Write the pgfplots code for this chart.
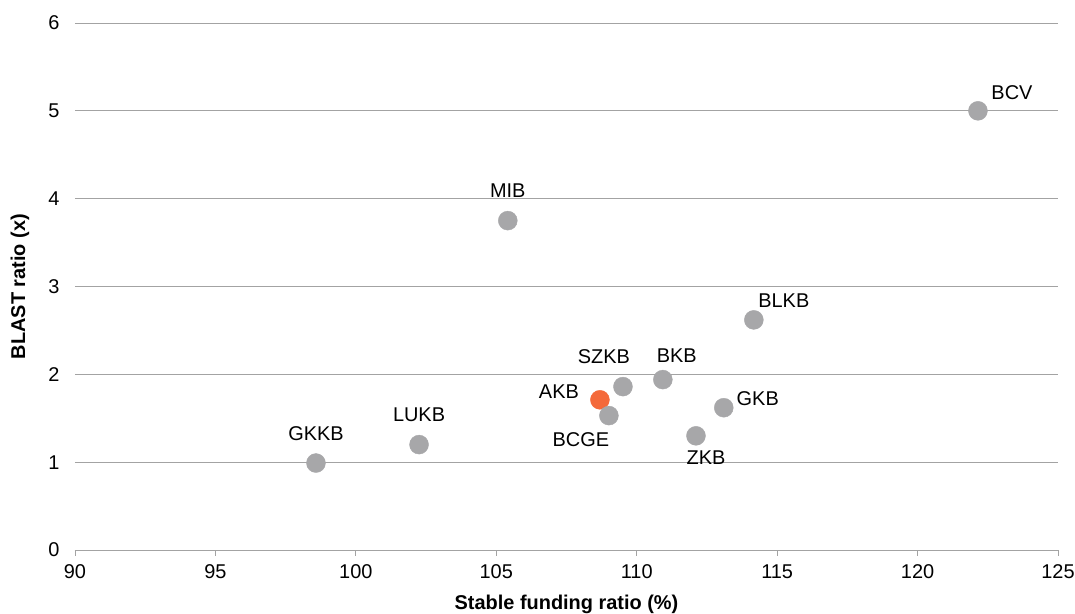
\documentclass[border=0pt]{standalone}
\usepackage{pgfplots}
\pgfplotsset{compat=1.18}
\usepackage{pgfplotstable}
\usepackage{fontspec}
\setmainfont{Liberation Sans}

\definecolor{dotgray}{HTML}{A7A7A9}
\definecolor{dotorange}{HTML}{F4693A}
\definecolor{gridgray}{HTML}{A3A3A3}

% Cantonal banks: stable funding ratio (%) vs BLAST ratio (x)
% dx, dy: offset of the bank's name from its dot (bp)
\pgfplotstableread{
x      y     label  dx   dy
98.58  0.99  GKKB   0    29
102.25 1.20  LUKB   0    30
105.41 3.75  MIB    0    30
109.01 1.53  BCGE  -28  -24
109.51 1.86  SZKB  -19   30
110.93 1.94  BKB    14   24
112.11 1.30  ZKB    10  -22
113.10 1.62  GKB    34   9
114.17 2.62  BLKB   30   19
122.15 5.00  BCV    34   18
}\peers

\pgfplotstableread{
x      y     label  dx   dy
108.69 1.71  AKB   -41   8
}\akb

\begin{document}
\begin{tikzpicture}
\useasboundingbox (-75bp,-64bp) rectangle (1000bp,550bp);
\begin{axis}[
  scale only axis,
  width=983bp, height=527bp,
  xmin=90, xmax=125, ymin=0, ymax=6,
  xtick={90,95,...,125}, ytick={0,1,...,6},
  axis x line*=bottom, axis y line*=left,
  x axis line style={gridgray, line width=0.9bp, -},
  y axis line style={draw=none},
  ytick style={draw=none},
  xtick style={gridgray, line width=0.9bp},
  tick align=outside,
  major tick length=6bp,
  ymajorgrids,
  major grid style={gridgray, line width=0.9bp},
  font=\fontsize{20}{24}\selectfont,
  tick label style={font=\fontsize{20}{24}\selectfont},
  /pgf/number format/assume math mode=true,
  yticklabel style={xshift=-6bp},
  xticklabel style={yshift=-5bp},
  xlabel={\bfseries Stable funding ratio (\%)},
  ylabel={\bfseries BLAST ratio (x)},
  xlabel style={at={(axis description cs:0.5,-0.104)}, anchor=center},
  ylabel style={at={(axis description cs:-0.056,0.5)}, anchor=center},
  clip=false,
  point meta=explicit symbolic,
  visualization depends on={\thisrow{dx}\as\dx},
  visualization depends on={\thisrow{dy}\as\dy},
  nodes near coords,
  nodes near coords style={anchor=center, xshift=\dx*1bp, yshift=\dy*1bp,
    font=\fontsize{20}{24}\selectfont, text=black, inner sep=0pt},
]
\addplot[only marks, mark=*, mark size=9.5bp, color=dotorange]
  table[x=x, y=y, meta=label] {\akb};
\addplot[only marks, mark=*, mark size=9.5bp, color=dotgray]
  table[x=x, y=y, meta=label] {\peers};
\end{axis}
\end{tikzpicture}
\end{document}
